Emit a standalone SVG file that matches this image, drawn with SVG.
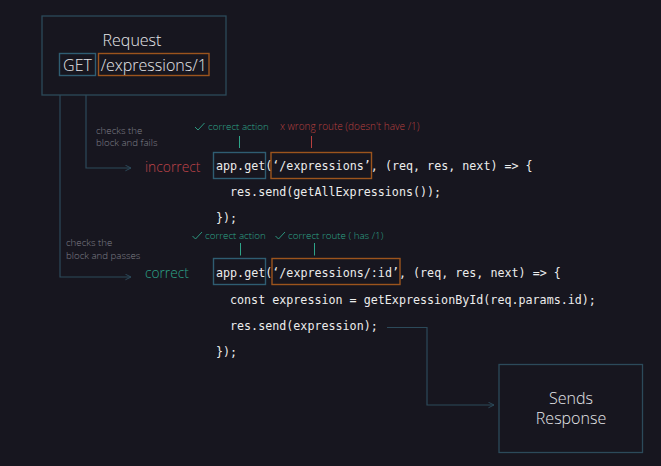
<svg xmlns="http://www.w3.org/2000/svg" width="661" height="466" viewBox="0 0 661 466">
<defs>
<style>
.bg{fill:#17161f}
.box{fill:none;stroke:#2c4a5a;stroke-width:1.3}
.bbox{fill:none;stroke:#2f5d72;stroke-width:1.4}
.obox{fill:none;stroke:#9c541d;stroke-width:1.4}
.title{font-family:"Open Sans","Noto Sans",sans-serif;font-weight:300;font-size:16px;fill:#e6e6ea}
.code{font-family:"DejaVu Sans Mono","Liberation Mono",monospace;font-size:11.7px;fill:#ececec}
.note{font-family:"Open Sans","Noto Sans",sans-serif;font-weight:300;font-size:9.7px;fill:#80808a}
.ok{font-family:"Open Sans","Noto Sans",sans-serif;font-weight:300;font-size:9.8px;fill:#2ea489}
.bad{font-family:"Open Sans","Noto Sans",sans-serif;font-weight:300;font-size:10px;fill:#b8403f}
.okbig{font-family:"Open Sans","Noto Sans",sans-serif;font-weight:300;font-size:13.7px;fill:#2ea489}
.badbig{font-family:"Open Sans","Noto Sans",sans-serif;font-weight:300;font-size:13.8px;fill:#c0444a}
.conn{fill:none;stroke:#2c4a5a;stroke-width:1.2}
.tick{fill:none;stroke-width:1}
</style>
<marker id="arr" viewBox="0 0 10 10" refX="9" refY="5" markerWidth="7" markerHeight="7" orient="auto" markerUnits="userSpaceOnUse">
<path d="M1,1 L9,5 L1,9" fill="none" stroke="#2c4a5a" stroke-width="1.4"/>
</marker>
</defs>
<rect class="bg" x="0" y="0" width="661" height="466"/>

<g id="connectors">
<path class="conn" d="M86,95 V168 H131" marker-end="url(#arr)"/>
<path class="conn" d="M60,95 V277 H131" marker-end="url(#arr)"/>
<path class="conn" d="M387,327.5 H427 V405 H494" marker-end="url(#arr)"/>
<line class="tick" stroke="#2ea489" x1="239.5" y1="136" x2="239.5" y2="148"/>
<line class="tick" stroke="#b8403f" x1="311.5" y1="136" x2="311.5" y2="148"/>
<line class="tick" stroke="#2ea489" x1="240.5" y1="243" x2="240.5" y2="255.5"/>
<line class="tick" stroke="#2ea489" x1="314.5" y1="243" x2="314.5" y2="255.5"/>
</g>

<g id="request">
<rect class="box" x="42" y="16" width="184" height="79"/>
<text class="title" x="132" y="46" text-anchor="middle">Request</text>
<rect class="bbox" x="59.5" y="53.5" width="36" height="22"/>
<text class="title" x="77.5" y="71" text-anchor="middle">GET</text>
<rect class="obox" x="98.5" y="53.5" width="110.5" height="22"/>
<text class="title" x="153.7" y="71" text-anchor="middle">/expressions/1</text>
</g>

<g id="fail-label">
<text class="note" x="96" y="133.6">checks the<tspan x="96" y="146.4">block and fails</tspan></text>
<text class="badbig" x="145" y="172">incorrect</text>
</g>

<g id="pass-label">
<text class="note" x="66" y="246.4">checks the<tspan x="66" y="259.2">block and passes</tspan></text>
<text class="okbig" x="145" y="278">correct</text>
</g>

<g id="block1">
<path d="M195,127 L198,130 L204.5,123" fill="none" stroke="#2ea489" stroke-width="0.9"/>
<text class="ok" x="208" y="130">correct action</text>
<text class="bad" x="280" y="130">x wrong route (doesn't have /1)</text>
<rect class="bbox" x="213.5" y="152.5" width="52" height="26"/>
<rect class="obox" x="271" y="152.5" width="100.5" height="26"/>
<text class="code" x="216" y="169.5" xml:space="preserve">app.get(‘/expressions’, (req, res, next) =&gt; {</text>
<text class="code" x="230" y="196">res.send(getAllExpressions());</text>
<text class="code" x="216" y="222">});</text>
</g>

<g id="block2">
<path d="M192.5,236 L195.5,239 L202,232" fill="none" stroke="#2ea489" stroke-width="0.9"/>
<text class="ok" x="205" y="239">correct action</text>
<path d="M275.5,236 L278.5,239 L285,232" fill="none" stroke="#2ea489" stroke-width="0.9"/>
<text class="ok" x="288" y="239">correct route ( has /1)</text>
<rect class="bbox" x="213.5" y="258.5" width="52" height="26"/>
<rect class="obox" x="272" y="258.5" width="128" height="26"/>
<text class="code" x="216" y="276.5" xml:space="preserve">app.get(‘/expressions/:id’, (req, res, next) =&gt; {</text>
<text class="code" x="230" y="303.5">const expression = getExpressionById(req.params.id);</text>
<text class="code" x="230" y="330">res.send(expression);</text>
<text class="code" x="216" y="356">});</text>
</g>

<g id="response">
<rect class="box" x="499" y="364.5" width="143.5" height="88"/>
<text class="title" x="571" y="403.5" text-anchor="middle">Sends<tspan x="571" y="424">Response</tspan></text>
</g>
</svg>
